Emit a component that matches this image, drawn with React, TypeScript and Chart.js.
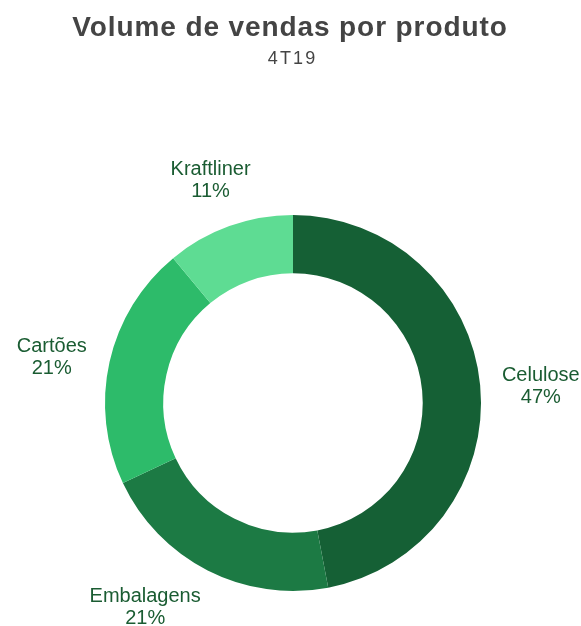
import React, { useEffect, useRef } from "react";
import { Chart, registerables } from "chart.js";

Chart.register(...registerables);

const categories = ["Celulose", "Embalagens", "Cartões", "Kraftliner"];
const values = [47, 21, 21, 11];
const colors = ["#156035", "#1c7a44", "#2dbb6a", "#5edc93"];
const titleText = "Volume de vendas por produto";
const subtitleText = "4T19";

const FONT = "'Liberation Sans', Arial, sans-serif";

function drawSpaced(ctx: CanvasRenderingContext2D, text: string, cx: number, y: number, ls: number) {
  (ctx as any).letterSpacing = ls + "px";
  const w = ctx.measureText(text).width;
  ctx.textAlign = "left";
  ctx.fillText(text, cx - (w - ls) / 2, y);
  (ctx as any).letterSpacing = "0px";
}

const labelPlugin = {
  id: "customText",
  afterDraw(chart: any) {
    const ctx: CanvasRenderingContext2D = chart.ctx;
    const W = chart.width;
    const H = chart.height;
    ctx.save();
    ctx.textBaseline = "alphabetic";
    ctx.fillStyle = "#444444";
    ctx.font = `bold 28px ${FONT}`;
    drawSpaced(ctx, titleText, W / 2 - 1, 36, 0.9);
    ctx.font = `18px ${FONT}`;
    drawSpaced(ctx, subtitleText, W / 2 + 1, 64, 2.2);

    const meta = chart.getDatasetMeta(0);
    const total = values.reduce((a, b) => a + b, 0);
    ctx.font = `20px ${FONT}`;
    ctx.fillStyle = "#1a5c32";
    ctx.textAlign = "center";
    meta.data.forEach((arc: any, i: number) => {
      const p = arc.getProps(["x", "y", "startAngle", "endAngle", "outerRadius"], true);
      const mid = (p.startAngle + p.endAngle) / 2;
      const c = Math.cos(mid);
      const s = Math.sin(mid);
      const l1 = categories[i];
      const l2 = Math.round((values[i] / total) * 100) + "%";
      const hw = Math.max(ctx.measureText(l1).width, ctx.measureText(l2).width) / 2;
      const hh = 23;
      const d = p.outerRadius + 20 + Math.abs(c) * hw + Math.abs(s) * hh;
      let cx = p.x + c * d;
      let cy = p.y + s * d + 5 + 3 * Math.max(0, -c) * (1 - Math.abs(s));
      const maxY = H - 20.5;
      if (cy > maxY) {
        const dy = maxY - p.y;
        const r = d - 3;
        const dx = Math.sqrt(Math.max(r * r - dy * dy, 0));
        cx = p.x + (c < 0 ? -dx : dx);
        cy = maxY;
      }
      ctx.fillText(l1, cx, cy - 4);
      ctx.fillText(l2, cx, cy + 18);
    });
    ctx.restore();
  },
};

export default function App() {
  const ref = useRef<HTMLCanvasElement | null>(null);
  useEffect(() => {
    if (!ref.current) return;
    const chart = new Chart(ref.current, {
      type: "doughnut",
      data: {
        labels: categories,
        datasets: [
          {
            data: values,
            backgroundColor: colors,
            borderWidth: 0,
          },
        ],
      },
      options: {
        animation: false,
        responsive: false,
        maintainAspectRatio: false,
        cutout: "69%",
        layout: { padding: { top: 215, bottom: 35, left: 105, right: 100 } },
        plugins: {
          legend: { display: false },
          title: { display: false },
          tooltip: { enabled: false },
        },
      },
      plugins: [labelPlugin],
    });
    return () => chart.destroy();
  }, []);
  return (
    <div style={{ width: 581, height: 626, position: "absolute", left: 0, top: 0 }}>
      <canvas ref={ref} width={581} height={626} style={{ width: 581, height: 626, display: "block" }} />
    </div>
  );
}
